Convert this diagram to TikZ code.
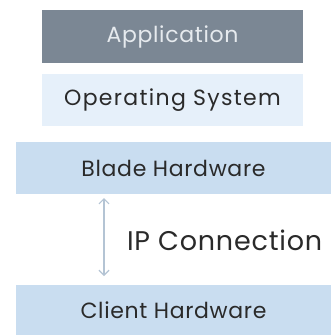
\documentclass[tikz,border=0pt]{standalone}
\usepackage{fontspec}
\setmainfont{Poppins}[LetterSpace=3]
\usetikzlibrary{arrows.meta}
\definecolor{appfill}{HTML}{7B8794}
\definecolor{apptext}{HTML}{E6EAEE}
\definecolor{osfill}{HTML}{E6F0FA}
\definecolor{hwfill}{HTML}{C9DDF0}
\definecolor{linkcol}{HTML}{B4C4D4}
\definecolor{txt}{HTML}{2A2A2A}
\tikzset{
  layer/.style={draw=none, inner sep=0pt, outer sep=0pt, text=txt, font=\fontsize{22}{26}\selectfont},
}
\begin{document}
\begin{tikzpicture}[x=1pt,y=1pt]
\useasboundingbox (0,0) rectangle (336,-335);
\fill[white] (0,0) rectangle (336,-335);
% software layers
\node[layer, fill=appfill, text=apptext, minimum width=261, minimum height=53, anchor=north west] (app) at (42,-10) {Application};
\node[layer, fill=osfill, minimum width=261, minimum height=52, anchor=north west] (os) at (42,-74) {\addfontfeature{LetterSpace=6}Operating System};
% hardware layers
\node[layer, fill=hwfill, minimum width=315, minimum height=52, anchor=north west] (blade) at (16,-142) {Blade Hardware};
\node[layer, fill=hwfill, minimum width=315, minimum height=50, anchor=north west] (client) at (16,-285) {Client Hardware};
% link between the two machines
\coordinate (top) at (104,-198);
\coordinate (bot) at (104,-276);
\draw[linkcol, line width=1.2pt, {Straight Barb[length=5pt,width=10pt]}-{Straight Barb[length=5pt,width=10pt]}] (top) -- (bot);
\node[layer, anchor=west, font=\fontsize{27}{31}\selectfont] (ip) at (127,-240) {IP Connection};
\end{tikzpicture}
\end{document}
